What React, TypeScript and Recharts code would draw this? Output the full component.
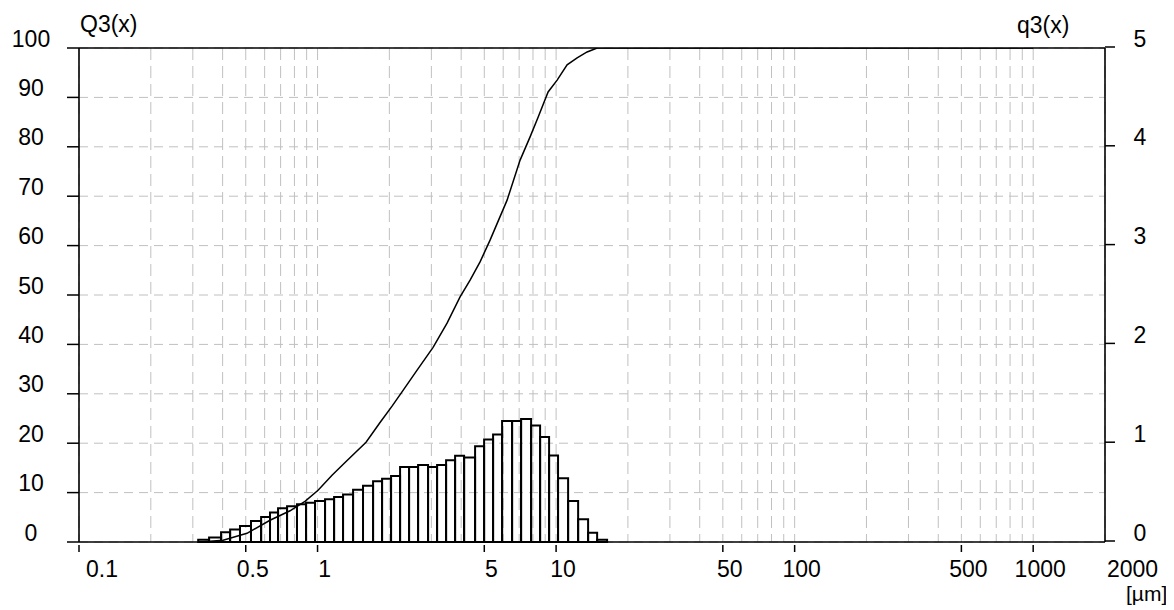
import { CartesianGrid, ComposedChart, Line, ReferenceArea, ReferenceLine, XAxis, YAxis } from 'recharts'

const font = '"Liberation Sans", Arial, sans-serif'
const fs = 23

// histogram classes (µm) and density q3(x)
const binEdges = [
  0.316, 0.351, 0.394, 0.43, 0.473, 0.526, 0.58, 0.632, 0.683, 0.745, 0.82, 0.895, 0.976, 1.075, 1.173,
  1.279, 1.409, 1.551, 1.709, 1.864, 2.033, 2.218, 2.419, 2.639, 2.906, 3.17, 3.458, 3.772, 4.115, 4.575,
  4.991, 5.443, 5.937, 6.539, 7.132, 7.857, 8.569, 9.346, 10.19, 11.23, 12.37, 13.62, 14.86, 16.36,
]
const densityQ3 = [
  0.024, 0.045, 0.098, 0.126, 0.162, 0.213, 0.252, 0.298, 0.341, 0.362, 0.382, 0.397, 0.414, 0.432, 0.456,
  0.48, 0.529, 0.569, 0.615, 0.64, 0.668, 0.76, 0.76, 0.78, 0.76, 0.78, 0.827, 0.873, 0.855, 0.969,
  1.038, 1.088, 1.225, 1.225, 1.245, 1.18, 1.063, 0.876, 0.645, 0.415, 0.23, 0.093, 0.023,
]

// cumulative Q3(x) in %
const sizes = [
  0.322, 0.402, 0.506, 0.632, 0.767, 0.886, 1.005, 1.15, 1.304, 1.597, 1.828, 2.053, 2.283, 2.614, 3.05,
  3.491, 3.958, 4.36, 4.8, 5.287, 6.231, 7.065, 7.78, 8.406, 9.258, 10.1, 11.12, 12.25, 13.49, 14.86, 1000,
]
const cumQ3 = [
  0, 0.34, 1.76, 4.4, 6.32, 8.24, 10.47, 13.5, 16.1, 20.2, 24.2, 27.5, 30.7, 34.8, 39.4,
  44.3, 49.6, 53.0, 56.7, 61.1, 69.2, 77.3, 82.0, 86.0, 91.1, 93.5, 96.6, 98.0, 99.2, 100, 100,
]

const gridX = [
  0.1, 0.2, 0.3, 0.4, 0.5, 0.6, 0.7, 0.8, 0.9, 1, 2, 3, 4, 5, 6, 7, 8, 9, 10, 20, 30, 40, 50, 60, 70, 80, 90,
  100, 200, 300, 400, 500, 600, 700, 800, 900, 1000, 2000,
]
const labelX = [0.1, 0.5, 1, 5, 10, 50, 100, 500, 1000, 2000]
const ticksLeft = [0, 10, 20, 30, 40, 50, 60, 70, 80, 90, 100]
const ticksRight = [0, 1, 2, 3, 4, 5]

const curve = sizes.map((size, i) => ({ size, Q3: cumQ3[i] }))
const tops = densityQ3.map((v, i) => ({ size: binEdges[i], q3: v }))
const bins = densityQ3.map((v, i) => ({ lo: binEdges[i], hi: binEdges[i + 1], v }))

const txt = { fontFamily: font, fontSize: fs, fill: '#000' }

function XTick({ x, y, payload }: any) {
  const v = payload.value
  if (!labelX.includes(v)) return <g />
  const first = v === labelX[0]
  const last = v === labelX[labelX.length - 1]
  return (
    <g>
      {!last && <line x1={x} x2={x} y1={y + 3} y2={y + 10} stroke="#000" strokeWidth={1.5} />}
      <text x={last ? x + 2 : x + 7} y={y + 35} textAnchor={first || last ? 'start' : 'middle'} {...txt}>
        {v}
      </text>
    </g>
  )
}

function LeftTick({ x, y, payload }: any) {
  return (
    <g>
      <line x1={x - 12} x2={x} y1={y} y2={y} stroke="#000" strokeWidth={1.5} />
      <text x={x - 48} y={y - 1.5} textAnchor="middle" {...txt}>
        {payload.value}
      </text>
    </g>
  )
}

function RightTick({ x, y, payload }: any) {
  return (
    <g>
      <line x1={x} x2={x + 10} y1={y - 1} y2={y - 1} stroke="#000" strokeWidth={1.5} />
      <text x={x + 35} y={y - 1.5} textAnchor="middle" {...txt}>
        {payload.value}
      </text>
    </g>
  )
}

export default function App() {
  return (
    <div style={{ position: 'relative', width: 1166, height: 602 }}>
      <ComposedChart width={1166} height={602} data={curve} margin={{ top: 40, right: 19, bottom: 38, left: 21 }}>
        <CartesianGrid yAxisId="left" vertical={false} stroke="#c0c0c0" strokeDasharray="9 6" />
        <CartesianGrid yAxisId="left" horizontal={false} stroke="#c0c0c0" strokeDasharray="12 6" />
        <XAxis
          type="number"
          dataKey="size"
          scale="log"
          domain={[0.1, 2000]}
          allowDataOverflow
          ticks={gridX}
          interval={0}
          tick={<XTick />}
          tickLine={false}
          tickSize={0}
          tickMargin={0}
          height={30}
          axisLine={{ stroke: '#000', strokeWidth: 1.6 }}
        />
        <YAxis
          yAxisId="left"
          domain={[0, 100]}
          ticks={ticksLeft}
          interval={0}
          tick={<LeftTick />}
          tickLine={false}
          tickSize={0}
          tickMargin={0}
          width={50}
          allowDataOverflow
          axisLine={{ stroke: '#000', strokeWidth: 1.6 }}
        />
        <YAxis
          yAxisId="right"
          orientation="right"
          domain={[0, 5]}
          ticks={ticksRight}
          interval={0}
          tick={<RightTick />}
          tickLine={false}
          tickSize={0}
          tickMargin={0}
          width={50}
          allowDataOverflow
          axisLine={{ stroke: '#000', strokeWidth: 1.6 }}
        />
        <ReferenceLine yAxisId="left" y={100} stroke="#000" strokeWidth={1.6} />
        {/* registers the q3 axis; the histogram itself is drawn as areas below */}
        <Line
          yAxisId="right"
          data={tops}
          dataKey="q3"
          stroke="none"
          dot={false}
          activeDot={false}
          legendType="none"
          isAnimationActive={false}
        />
        {bins.map((b, i) => (
          <ReferenceArea
            key={i}
            yAxisId="right"
            x1={b.lo}
            x2={b.hi}
            y1={0}
            y2={b.v}
            fill="none"
            fillOpacity={0}
            stroke="#000"
            strokeWidth={2}
            strokeOpacity={1}
            ifOverflow="visible"
          />
        ))}
        <Line
          yAxisId="left"
          dataKey="Q3"
          type="linear"
          stroke="#000"
          strokeWidth={1.5}
          dot={false}
          isAnimationActive={false}
        />
      </ComposedChart>
      <svg width={1166} height={602} style={{ position: 'absolute', left: 0, top: 0, pointerEvents: 'none' }}>
        <text x={72} y={24} {...txt}>Q3(x)</text>
        <text x={1009} y={25} {...txt}>q3(x)</text>
        <text x={1118} y={593} {...txt} fontSize={21}>[µm]</text>
      </svg>
    </div>
  )
}
